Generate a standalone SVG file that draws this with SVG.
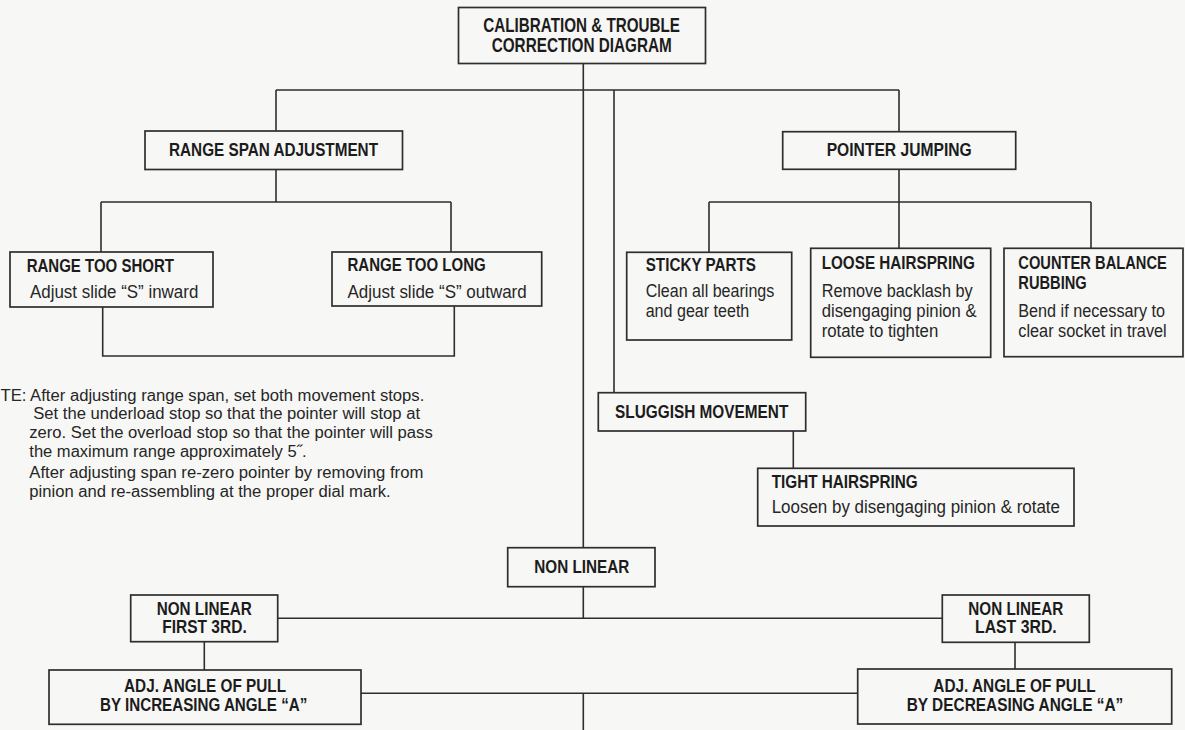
<svg xmlns="http://www.w3.org/2000/svg" width="1185" height="730" viewBox="0 0 1185 730">
<style>
.bg{fill:#f7f7f5}
.box{fill:#f7f7f5;stroke:#2e2e2e;stroke-width:1.7}
.con{fill:none;stroke:#2e2e2e;stroke-width:1.6}
.b{font-family:"Liberation Sans",Arial,sans-serif;font-weight:bold;font-size:18.5px;fill:#1c1c1c}
.b2{font-family:"Liberation Sans",Arial,sans-serif;font-weight:bold;font-size:17.5px;fill:#1c1c1c}
.t{font-family:"Liberation Sans",Arial,sans-serif;font-weight:bold;font-size:19.5px;fill:#1c1c1c}
.r{font-family:"Liberation Sans",Arial,sans-serif;font-size:17.5px;fill:#262626}
.n{font-family:"Liberation Sans",Arial,sans-serif;font-size:16px;fill:#262626}
</style>
<rect class="bg" x="0" y="0" width="1185" height="730"/>
<g id="connectors">
<path class="con" d="M583.3,63.3V547.7 M276,90H899 M276,90V130.7 M899,90V131.7 M614,90V392.7"/>
<path class="con" d="M276,169.3V202 M101,202H451 M101,202V252 M451,202V252"/>
<path class="con" d="M102.7,307V356H454.3V305.7"/>
<path class="con" d="M899,169.3V202 M709,202H1091 M709,202V252.3 M899,202V248.3 M1091,202V248.3"/>
<path class="con" d="M793.3,431V468.3"/>
<path class="con" d="M583.3,586.7V618.3 M277.7,618.3H942.3 M204.3,641.7V670 M1015,642.3V669"/>
<path class="con" d="M361,693.3H857.7 M583.3,693.3V730"/>
</g>
<g id="title">
<rect class="box" x="458.5" y="7.5" width="247" height="56"/>
<text class="t" x="483.3" y="31.7" textLength="196.7" lengthAdjust="spacingAndGlyphs">CALIBRATION &amp; TROUBLE</text>
<text class="t" x="491.7" y="51.7" textLength="180" lengthAdjust="spacingAndGlyphs">CORRECTION DIAGRAM</text>
</g>
<g id="range-span">
<rect class="box" x="145" y="131" width="257.5" height="38.5"/>
<text class="b" x="169" y="156" font-size="19.5" textLength="209" lengthAdjust="spacingAndGlyphs">RANGE SPAN ADJUSTMENT</text>
</g>
<g id="pointer-jumping">
<rect class="box" x="782.7" y="131.7" width="233" height="37.6"/>
<text class="b" x="826.7" y="156" font-size="19.5" textLength="145" lengthAdjust="spacingAndGlyphs">POINTER JUMPING</text>
</g>
<g id="range-too-short">
<rect class="box" x="10" y="252" width="203" height="55"/>
<text class="b" x="26.7" y="272" textLength="147.3" lengthAdjust="spacingAndGlyphs">RANGE TOO SHORT</text>
<text class="r" x="30" y="298" textLength="168.3" lengthAdjust="spacingAndGlyphs">Adjust slide “S” inward</text>
</g>
<g id="range-too-long">
<rect class="box" x="332" y="252" width="209.7" height="54"/>
<text class="b" x="347.5" y="271" textLength="138.2" lengthAdjust="spacingAndGlyphs">RANGE TOO LONG</text>
<text class="r" x="347.5" y="297.7" textLength="179.2" lengthAdjust="spacingAndGlyphs">Adjust slide “S” outward</text>
</g>
<g id="sticky-parts">
<rect class="box" x="626.7" y="252.3" width="165" height="87.7"/>
<text class="b" x="645.7" y="270.7" textLength="110.3" lengthAdjust="spacingAndGlyphs">STICKY PARTS</text>
<text class="r" x="645.7" y="296.7" textLength="128.6" lengthAdjust="spacingAndGlyphs">Clean all bearings</text>
<text class="r" x="645.7" y="316.7" textLength="103.6" lengthAdjust="spacingAndGlyphs">and gear teeth</text>
</g>
<g id="loose-hairspring">
<rect class="box" x="810.7" y="248.3" width="180" height="109"/>
<text class="b" x="821.7" y="269.3" textLength="153.3" lengthAdjust="spacingAndGlyphs">LOOSE HAIRSPRING</text>
<text class="r" x="821.7" y="296.7" textLength="151" lengthAdjust="spacingAndGlyphs">Remove backlash by</text>
<text class="r" x="821.7" y="316.7" textLength="155" lengthAdjust="spacingAndGlyphs">disengaging pinion &amp;</text>
<text class="r" x="821.7" y="336.7" textLength="116.6" lengthAdjust="spacingAndGlyphs">rotate to tighten</text>
</g>
<g id="counter-balance">
<rect class="box" x="1004" y="248.3" width="179" height="108.4"/>
<text class="b2" transform="translate(1018.3,269.3) scale(0.84,1)" x="0" y="0">COUNTER BALANCE</text>
<text class="b2" x="1018.3" y="289.3" textLength="68.4" lengthAdjust="spacingAndGlyphs">RUBBING</text>
<text class="r" x="1018.3" y="316.7" textLength="146.7" lengthAdjust="spacingAndGlyphs">Bend if necessary to</text>
<text class="r" x="1018.3" y="336.7" textLength="148.4" lengthAdjust="spacingAndGlyphs">clear socket in travel</text>
</g>
<g id="note">
<text class="n" x="0.5" y="401" textLength="423.8" lengthAdjust="spacingAndGlyphs">TE: After adjusting range span, set both movement stops.</text>
<text class="n" x="33.3" y="419.3" textLength="386.7" lengthAdjust="spacingAndGlyphs">Set the underload stop so that the pointer will stop at</text>
<text class="n" x="29.3" y="437.7" textLength="403.4" lengthAdjust="spacingAndGlyphs">zero. Set the overload stop so that the pointer will pass</text>
<text class="n" x="29.3" y="456.7" textLength="277.4" lengthAdjust="spacingAndGlyphs">the maximum range approximately 5˝.</text>
<text class="n" x="29.3" y="478.3" textLength="394" lengthAdjust="spacingAndGlyphs">After adjusting span re-zero pointer by removing from</text>
<text class="n" x="29.3" y="496.7" textLength="361.4" lengthAdjust="spacingAndGlyphs">pinion and re-assembling at the proper dial mark.</text>
</g>
<g id="sluggish-movement">
<rect class="box" x="598.3" y="392.7" width="207.4" height="38.3"/>
<text class="b" x="615" y="417.7" textLength="173.3" lengthAdjust="spacingAndGlyphs">SLUGGISH MOVEMENT</text>
</g>
<g id="tight-hairspring">
<rect class="box" x="757.7" y="468.3" width="316.3" height="57.7"/>
<text class="b" x="771.7" y="487.7" textLength="146" lengthAdjust="spacingAndGlyphs">TIGHT HAIRSPRING</text>
<text class="r" x="771.7" y="512.7" textLength="288.3" lengthAdjust="spacingAndGlyphs">Loosen  by disengaging pinion &amp; rotate</text>
</g>
<g id="non-linear">
<rect class="box" x="507.7" y="547.7" width="147.3" height="39"/>
<text class="b" x="534.3" y="572.7" textLength="95" lengthAdjust="spacingAndGlyphs">NON LINEAR</text>
</g>
<g id="non-linear-first">
<rect class="box" x="130.7" y="595" width="147" height="46.7"/>
<text class="b2" x="156.7" y="615" textLength="95" lengthAdjust="spacingAndGlyphs">NON LINEAR</text>
<text class="b2" x="162.3" y="633.3" textLength="84.4" lengthAdjust="spacingAndGlyphs">FIRST 3RD.</text>
</g>
<g id="non-linear-last">
<rect class="box" x="942.3" y="595" width="147" height="47.3"/>
<text class="b2" x="968.3" y="615" textLength="95" lengthAdjust="spacingAndGlyphs">NON LINEAR</text>
<text class="b2" x="975" y="633.3" textLength="81.7" lengthAdjust="spacingAndGlyphs">LAST 3RD.</text>
</g>
<g id="adj-increasing">
<rect class="box" x="49" y="670" width="312" height="54.3"/>
<text class="b2" x="124" y="691.7" textLength="162" lengthAdjust="spacingAndGlyphs">ADJ. ANGLE OF PULL</text>
<text class="b2" x="100" y="710.7" textLength="207.3" lengthAdjust="spacingAndGlyphs">BY INCREASING ANGLE “A”</text>
</g>
<g id="adj-decreasing">
<rect class="box" x="857.7" y="669" width="314" height="55"/>
<text class="b2" x="933.3" y="691.7" textLength="162.4" lengthAdjust="spacingAndGlyphs">ADJ. ANGLE OF PULL</text>
<text class="b2" x="906.7" y="710.7" textLength="216.6" lengthAdjust="spacingAndGlyphs">BY DECREASING ANGLE “A”</text>
</g>
</svg>
